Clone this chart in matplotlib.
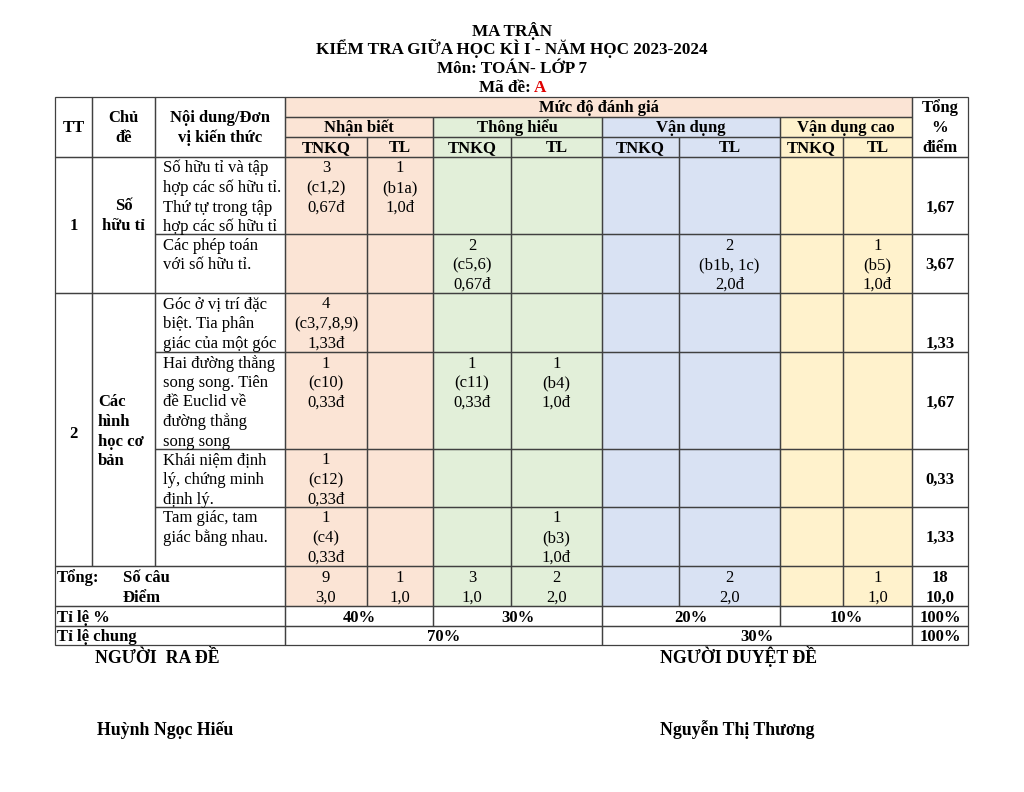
import matplotlib
matplotlib.use('Agg')
import matplotlib.pyplot as plt
from matplotlib.patches import Rectangle

plt.rcParams['font.family'] = ['Liberation Serif', 'DejaVu Serif']

# ---------------- data ----------------
title_lines = ["MA TRẬN", "KIỂM TRA GIỮA HỌC KÌ I - NĂM HỌC 2023-2024", "Môn: TOÁN- LỚP 7"]
exam_code_label = "Mã đề:"
exam_code = "A"
col_headers = [["TT"], ["Chủ", "đề"], ["Nội dung/Đơn", "vị kiến thức"]]
group_header = "Mức độ đánh giá"
levels = ["Nhận biết", "Thông hiểu", "Vận dụng", "Vận dụng cao"]
sub_headers = ["TNKQ", "TL"]
total_header = ["Tổng", "%", "điểm"]
topic_numbers = ["1", "2"]
topic_names = [["Số", "hữu tỉ"], ["Các", "hình", "học cơ", "bản"]]
topic_row_counts = [2, 4]
contents = [
    ["Số hữu tỉ và tập", "hợp các số hữu tỉ.", "Thứ tự trong tập", "hợp các số hữu tỉ"],
    ["Các phép toán", "với số hữu tỉ."],
    ["Góc ở vị trí đặc", "biệt. Tia phân", "giác của một góc"],
    ["Hai đường thẳng", "song song. Tiên", "đề Euclid về", "đường thẳng", "song song"],
    ["Khái niệm định", "lý, chứng minh", "định lý."],
    ["Tam giác, tam", "giác bằng nhau."],
]
# per content row: Nhận biết TNKQ/TL, Thông hiểu TNKQ/TL, Vận dụng TNKQ/TL, Vận dụng cao TNKQ/TL
cells = [
    [["3", "(c1,2)", "0,67đ"], ["1", "(b1a)", "1,0đ"], None, None, None, None, None, None],
    [None, None, ["2", "(c5,6)", "0,67đ"], None, None, ["2", "(b1b, 1c)", "2,0đ"], None, ["1", "(b5)", "1,0đ"]],
    [["4", "(c3,7,8,9)", "1,33đ"], None, None, None, None, None, None, None],
    [["1", "(c10)", "0,33đ"], None, ["1", "(c11)", "0,33đ"], ["1", "(b4)", "1,0đ"], None, None, None, None],
    [["1", "(c12)", "0,33đ"], None, None, None, None, None, None, None],
    [["1", "(c4)", "0,33đ"], None, None, ["1", "(b3)", "1,0đ"], None, None, None, None],
]
row_totals = ["1,67", "3,67", "1,33", "1,67", "0,33", "1,33"]
sum_label = "Tổng:"
sum_row_labels = ["Số câu", "Điểm"]
sum_counts = ["9", "1", "3", "2", "", "2", "", "1"]
sum_points = ["3,0", "1,0", "1,0", "2,0", "", "2,0", "", "1,0"]
sum_total = ["18", "10,0"]
ratio_label = "Tỉ lệ %"
ratio_levels = ["40%", "30%", "20%", "10%"]
ratio_total = "100%"
general_label = "Tỉ lệ chung"
general_ratios = ["70%", "30%"]
general_total = "100%"
signer_titles = ["NGƯỜI  RA ĐỀ", "NGƯỜI DUYỆT ĐỀ"]
signer_names = ["Huỳnh Ngọc Hiếu", "Nguyễn Thị Thương"]

# ---------------- layout ----------------
X = [55, 92, 155, 285, 367, 433, 511, 602, 679, 780, 843, 912, 968]
Y = [97, 117, 137, 157, 234, 293, 352, 449, 507, 566, 606, 626, 645]
level_colors = ['#FBE4D5', '#E2EFD9', '#D9E2F3', '#FFF2CC']
line_color = '#404040'
FS = 12.0
TFS = 12.3
STEP = 19.5
BASE = 5.5
total_line_idx = [2, 1, 2, 2, 1, 1]

fig = plt.figure(figsize=(10.24, 7.92), dpi=100)
ax = fig.add_axes([0, 0, 1, 1])
ax.set_xlim(0, 1024)
ax.set_ylim(792, 0)
ax.axis('off')

rects = []


def cell(c0, c1, r0, r1, fc='white'):
    rects.append((X[c0], Y[r0], X[c1] - X[c0], Y[r1] - Y[r0], fc))


def txt(x, y, s, bold=False, ha='center', size=FS, color='black'):
    ax.text(x, y + BASE * size / FS, s, ha=ha, va='baseline', fontsize=size,
            fontweight='bold' if bold else 'normal', color=color)


def col_color(c):
    return level_colors[(c - 3) // 2]


# titles
for s, y in zip(title_lines, [30, 48, 67]):
    txt(512, y, s, bold=True, size=TFS)
txt(531, 86, exam_code_label, bold=True, ha='right', size=TFS)
txt(534, 86, exam_code, bold=True, ha='left', size=TFS, color='#E00000')

# header
cell(0, 1, 0, 3); cell(1, 2, 0, 3); cell(2, 3, 0, 3)
cell(3, 11, 0, 1, level_colors[0])
cell(11, 12, 0, 3)
for i in range(4):
    cell(3 + 2 * i, 5 + 2 * i, 1, 2, level_colors[i])
    for j in range(2):
        cell(3 + 2 * i + j, 4 + 2 * i + j, 2, 3, level_colors[i])

txt((X[0] + X[1]) / 2, 127, col_headers[0][0], bold=True)
for k in (1, 2):
    cx = (X[k] + X[k + 1]) / 2
    txt(cx, 117, col_headers[k][0], bold=True)
    txt(cx, 136.5, col_headers[k][1], bold=True)
txt((X[3] + X[11]) / 2, 107, group_header, bold=True)
for i, lv in enumerate(levels):
    txt((X[3 + 2 * i] + X[5 + 2 * i]) / 2, 127, lv, bold=True)
    for j in range(2):
        txt((X[3 + 2 * i + j] + X[4 + 2 * i + j]) / 2, 146.5, sub_headers[j], bold=True)
for s, y in zip(total_header, [107, 126.5, 146]):
    txt((X[11] + X[12]) / 2, y, s, bold=True)

# body
r = 3
for g, n in enumerate(topic_row_counts):
    cell(0, 1, r, r + n)
    cell(1, 2, r, r + n)
    r += n
for k in range(len(contents)):
    rr = 3 + k
    cell(2, 3, rr, rr + 1)
    for c in range(3, 11):
        cell(c, c + 1, rr, rr + 1, col_color(c))
    cell(11, 12, rr, rr + 1)
    y0 = Y[rr] + 10
    for li, s in enumerate(contents[k]):
        txt(163, y0 + li * STEP, s, ha='left')
    for j, v in enumerate(cells[k]):
        if v:
            cx = (X[3 + j] + X[4 + j]) / 2
            for li, s in enumerate(v):
                txt(cx, y0 + li * STEP, s)
    txt((X[11] + X[12]) / 2, y0 + total_line_idx[k] * STEP, row_totals[k], bold=True)

# topic labels
txt((X[0] + X[1]) / 2, 224, topic_numbers[0], bold=True)
txt((X[0] + X[1]) / 2, 432, topic_numbers[1], bold=True)
for li, s in enumerate(topic_names[0]):
    txt((X[1] + X[2]) / 2, 205 + li * STEP, s, bold=True)
for li, s in enumerate(topic_names[1]):
    txt(98, 401 + li * STEP, s, bold=True, ha='left')

# totals row
cell(0, 3, 9, 10)
for c in range(3, 11):
    cell(c, c + 1, 9, 10, col_color(c))
cell(11, 12, 9, 10)
txt(57, 577, sum_label, bold=True, ha='left')
txt(123, 577, sum_row_labels[0], bold=True, ha='left')
txt(123, 596, sum_row_labels[1], bold=True, ha='left')
for j in range(8):
    cx = (X[3 + j] + X[4 + j]) / 2
    txt(cx, 577, sum_counts[j])
    txt(cx, 596, sum_points[j])
txt((X[11] + X[12]) / 2, 577, sum_total[0], bold=True)
txt((X[11] + X[12]) / 2, 596, sum_total[1], bold=True)

# ratio row
cell(0, 3, 10, 11)
for i in range(4):
    cell(3 + 2 * i, 5 + 2 * i, 10, 11)
    txt((X[3 + 2 * i] + X[5 + 2 * i]) / 2, 616, ratio_levels[i], bold=True)
cell(11, 12, 10, 11)
txt(57, 616, ratio_label, bold=True, ha='left')
txt((X[11] + X[12]) / 2, 616, ratio_total, bold=True)

# general row
cell(0, 3, 11, 12)
cell(3, 7, 11, 12)
cell(7, 11, 11, 12)
cell(11, 12, 11, 12)
txt(57, 635.5, general_label, bold=True, ha='left')
txt((X[3] + X[7]) / 2, 635.5, general_ratios[0], bold=True)
txt((X[7] + X[11]) / 2, 635.5, general_ratios[1], bold=True)
txt((X[11] + X[12]) / 2, 635.5, general_total, bold=True)

# draw rectangles: fills then borders
for (x, y, w, h, fc) in rects:
    ax.add_patch(Rectangle((x, y), w, h, facecolor=fc, edgecolor='none', zorder=1))
for (x, y, w, h, fc) in rects:
    ax.add_patch(Rectangle((x, y), w, h, facecolor='none', edgecolor=line_color, lw=0.9, zorder=2))

# signatures
txt(95, 657, signer_titles[0], bold=True, ha='left', size=12.8)
txt(660, 657, signer_titles[1], bold=True, ha='left', size=12.8)
txt(97, 729, signer_names[0], bold=True, ha='left', size=12.8)
txt(660, 729, signer_names[1], bold=True, ha='left', size=12.8)

fig.savefig('out.png', dpi=100)
